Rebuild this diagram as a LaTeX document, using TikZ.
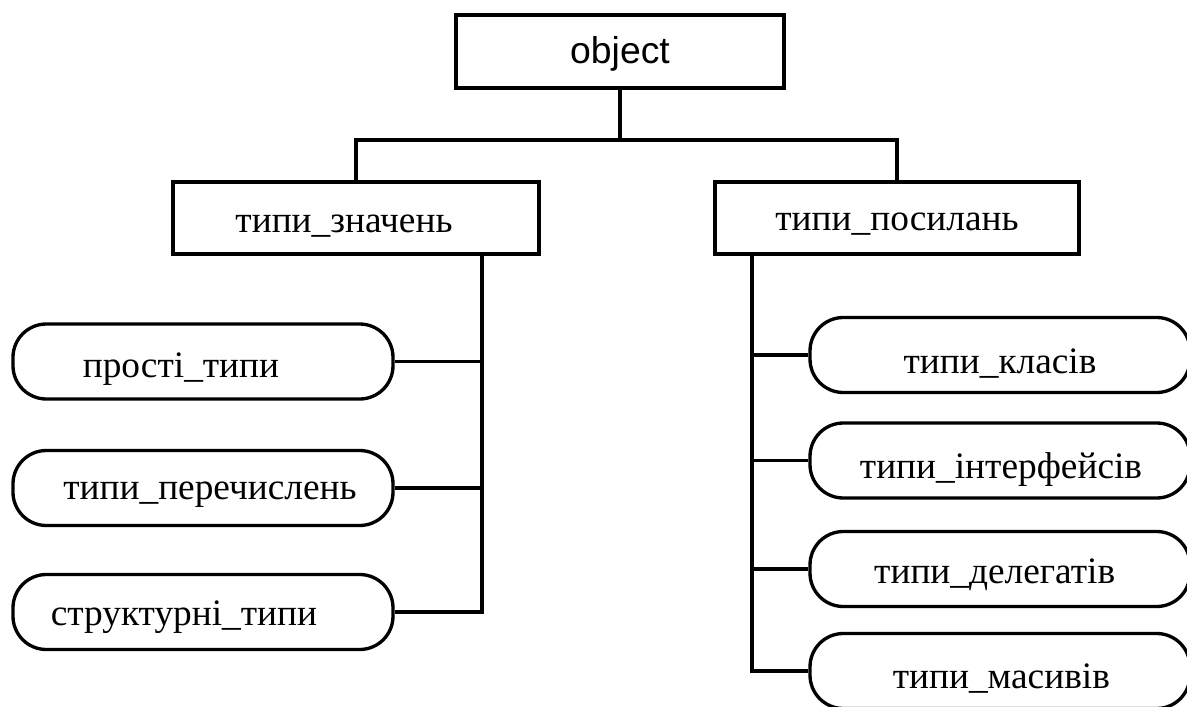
\documentclass[tikz,border=0pt]{standalone}
\usepackage{fontspec}
\setmainfont{Liberation Serif}
\newfontfamily\objfont{Liberation Sans}
% #1 horizontal shift, #2 baseline below centre, #3 text
\newcommand{\boxlabel}[3]{\raisebox{-#2}[0pt][0pt]{\makebox[0pt]{\hspace*{#1}\hspace*{#1}#3}}}
\begin{document}
\begin{tikzpicture}[x=0.75pt,y=-0.75pt,line width=2.5pt,
  font=\fontsize{28}{32}\selectfont,
  sqbox/.style={draw, rectangle, inner sep=0pt},
  rndbox/.style={draw, rectangle, rounded corners=25pt, inner sep=0pt,
    minimum width=285pt, minimum height=56.25pt},
  link/.style={line width=2.5pt}]
\useasboundingbox (0,0) rectangle (1187,706);
\clip (0,0) rectangle (1187,706);

\node[sqbox, minimum width=246pt, minimum height=54.75pt] (obj) at (620,51.5)
  {\objfont\boxlabel{0pt}{9pt}{object}};
\node[sqbox, minimum width=274.5pt, minimum height=54pt] (LZ) at (356,218)
  {\boxlabel{-9pt}{10.5pt}{типи\_значень}};
\node[sqbox, minimum width=273pt, minimum height=54pt] (RP) at (897,218)
  {\boxlabel{0pt}{9pt}{типи\_посилань}};

\node[rndbox] (L1) at (203,361.5) {\boxlabel{-16.5pt}{12pt}{прості\_типи}};
\node[rndbox] (L2) at (203,488)   {\boxlabel{5.25pt}{8.25pt}{типи\_перечислень}};
\node[rndbox] (L3) at (203,612)   {\boxlabel{-14.25pt}{9.75pt}{структурні\_типи}};

\node[rndbox] (R1) at (1000,355)  {\boxlabel{0pt}{13.5pt}{типи\_класів}};
\node[rndbox] (R2) at (1000,460.5){\boxlabel{0.75pt}{13.5pt}{типи\_інтерфейсів}};
\node[rndbox] (R3) at (1000,569)  {\boxlabel{-4pt}{10.5pt}{типи\_делегатів}};
\node[rndbox] (R4) at (1000,671)  {\boxlabel{1pt}{12.75pt}{типи\_масивів}};

\coordinate (jt) at (620,140);
\coordinate (lt) at (482,0);
\coordinate (rt) at (752,0);

\draw[link] (obj.south) -- (jt);
\draw[link] (LZ.north) |- (jt) -| (RP.north);

\draw[link] (LZ.south -| lt) |- (L3.east);
\draw[link] (L1.east) -- (L1.east -| lt);
\draw[link] (L2.east) -- (L2.east -| lt);

\draw[link] (RP.south -| rt) |- (R4.west);
\draw[link] (R1.west) -- (R1.west -| rt);
\draw[link] (R2.west) -- (R2.west -| rt);
\draw[link] (R3.west) -- (R3.west -| rt);
\end{tikzpicture}
\end{document}
